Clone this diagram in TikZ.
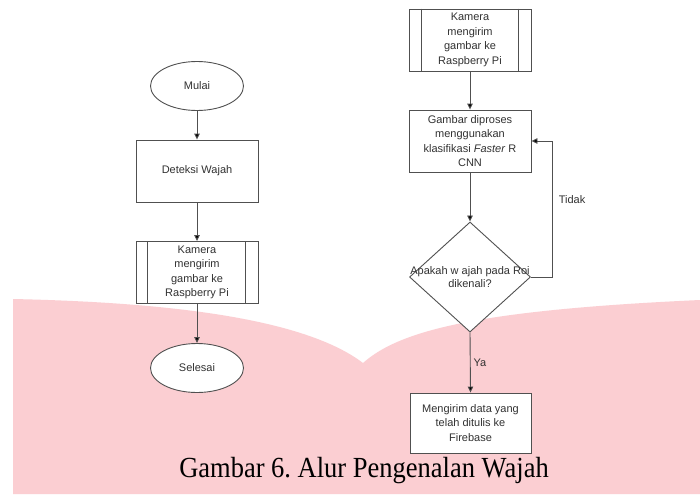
\documentclass[tikz,border=0pt]{standalone}
\usepackage{fontspec}
\setmainfont{Liberation Sans}
\newfontfamily\capfont{Liberation Serif}
\usetikzlibrary{shapes.geometric,arrows.meta}
\definecolor{bgpink}{RGB}{251,206,210}
\definecolor{linegray}{RGB}{80,80,80}
\definecolor{txtgray}{RGB}{50,50,50}
\frenchspacing
\begin{document}
\begin{tikzpicture}[x=1pt,y=-1pt,
  every node/.style={font=\fontsize{11}{14.5}\selectfont, text=txtgray, align=center, inner sep=0pt},
  box/.style={draw=linegray, fill=white, line width=0.9pt, minimum width=122pt, minimum height=62pt},
  term/.style={ellipse, draw=linegray, fill=white, line width=0.9pt, minimum width=93pt, minimum height=49pt},
  decision/.style={diamond, draw=linegray, fill=white, line width=0.9pt, minimum width=121pt, minimum height=110pt},
  arr/.style={draw=linegray, line width=0.9pt, -{Triangle[width=5.5pt,length=6pt,fill=black]}},
  conn/.style={draw=linegray, line width=0.9pt},
  lab/.style={font=\fontsize{11}{13}\selectfont}]
\useasboundingbox (0,0) rectangle (700,498);
\fill[white] (0,0) rectangle (700,498);
% background watermark
\fill[bgpink] (13,299) .. controls (150,302) and (300,315) .. (363,363)
  .. controls (400,330) and (480,310) .. (700,300) -- (700,494) -- (13,494) -- cycle;

% left column
\node[term] (mulai) at (197,86) {Mulai};
\node[box] (deteksi) at (197,171) {Deteksi Wajah};
\node[box] (kamL) at (197,272.5) {Kamera\\mengirim\\gambar ke\\Raspberry Pi};
\node[term] (selesai) at (197,368) {Selesai};
\draw[conn] ([xshift=12pt]kamL.north west) -- ([xshift=12pt]kamL.south west);
\draw[conn] ([xshift=-13pt]kamL.north east) -- ([xshift=-13pt]kamL.south east);

\draw[arr] (mulai) -- (deteksi);
\draw[arr] (deteksi) -- (kamL);
\draw[arr] (kamL) -- (selesai);

% right column
\node[box] (kamR) at (470,40) {Kamera\\mengirim\\gambar ke\\Raspberry Pi};
\draw[conn] ([xshift=13pt]kamR.north west) -- ([xshift=13pt]kamR.south west);
\draw[conn] ([xshift=-13pt]kamR.north east) -- ([xshift=-13pt]kamR.south east);
\node[box] (proses) at (470,141) {Gambar diproses\\menggunakan\\klasifikasi \textit{Faster} R\\CNN};
\node[decision] (dec) at (470,277) {};
\node[lab] (dectext) at (470,277) {Apakah w ajah pada Roi\\dikenali?};
\node[box, minimum width=121pt, minimum height=60pt] (kirim) at (470.5,423) {Mengirim data yang\\telah ditulis ke\\Firebase};
\coordinate (loop) at (552,277);

\draw[arr] (kamR) -- (proses);
\draw[arr] (proses) -- (dec);
\draw[arr] (dec.east) -- (loop) |- (proses.east);
\draw[arr] (dec.south) -- (kirim.north);
\node[lab] (tidak) at (572,200) {Tidak};
\node[lab] (ya) at (480,363) {Ya};

% caption
\node[font=\capfont\fontsize{26.5}{30}\selectfont, text=black, anchor=base] (caption) at (364,477) {\scalebox{1}[1.1]{Gambar 6. Alur Pengenalan Wajah}};
\end{tikzpicture}
\end{document}
